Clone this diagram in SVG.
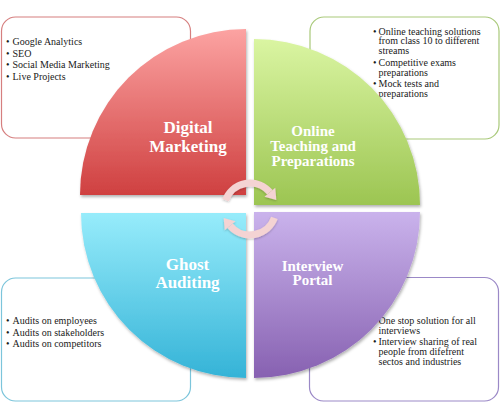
<svg xmlns="http://www.w3.org/2000/svg" width="500" height="419" viewBox="0 0 500 419">
<defs>
<linearGradient id="gRed" x1="0" y1="0" x2="0" y2="1"><stop offset="0" stop-color="#fca3a2"/><stop offset="1" stop-color="#cf4040"/></linearGradient>
<linearGradient id="gGreen" x1="0" y1="0" x2="0" y2="1"><stop offset="0" stop-color="#daf5a2"/><stop offset="1" stop-color="#9cc552"/></linearGradient>
<linearGradient id="gCyan" x1="0" y1="0" x2="0" y2="1"><stop offset="0" stop-color="#97ecfb"/><stop offset="1" stop-color="#34b3d7"/></linearGradient>
<linearGradient id="gPurple" x1="0" y1="0" x2="0" y2="1"><stop offset="0" stop-color="#cab3ec"/><stop offset="1" stop-color="#8761b1"/></linearGradient>
<filter id="sh" x="-10%" y="-10%" width="130%" height="130%"><feDropShadow dx="1" dy="2" stdDeviation="1.5" flood-color="#000" flood-opacity="0.3"/></filter>
<filter id="sh2" x="-30%" y="-30%" width="160%" height="160%"><feDropShadow dx="0" dy="1" stdDeviation="1" flood-color="#000" flood-opacity="0.25"/></filter>
</defs>
<style>
.box{fill:#fff;stroke-width:1.2}
.bt{font-family:"Liberation Serif",serif;font-size:10px;fill:#1a1a1a}
.hd{font-family:"Liberation Serif",serif;font-weight:bold;fill:#fff;text-anchor:middle}
.arr{fill:none;stroke:#f4d3d3;stroke-width:7}
.ah{fill:#f4d3d3}
</style>
<g id="box-tl">
<rect class="box" x="1.5" y="17" width="189" height="121" rx="14" stroke="#d67f7f"/>
<text class="bt"><tspan x="6" y="45">•</tspan><tspan x="12.5" y="45">Google Analytics</tspan><tspan x="6" y="56.7">•</tspan><tspan x="12.5" y="56.7">SEO</tspan><tspan x="6" y="68.4">•</tspan><tspan x="12.5" y="68.4">Social Media Marketing</tspan><tspan x="6" y="80">•</tspan><tspan x="12.5" y="80">Live Projects</tspan></text>
</g>
<g id="box-tr">
<rect class="box" x="310" y="17" width="189" height="122" rx="14" stroke="#a9c97a"/>
<text class="bt"><tspan x="373" y="34.5">•</tspan><tspan x="378.5" y="34.5">Online teaching solutions</tspan><tspan x="378.5" y="44.3">from class 10 to different</tspan><tspan x="378.5" y="54">streams</tspan><tspan x="373" y="65.8">•</tspan><tspan x="378.5" y="65.8">Competitive exams</tspan><tspan x="378.5" y="75.5">preparations</tspan><tspan x="373" y="87">•</tspan><tspan x="378.5" y="87">Mock tests and</tspan><tspan x="378.5" y="96.5">preparations</tspan></text>
</g>
<g id="box-bl">
<rect class="box" x="1.5" y="278" width="189" height="123" rx="14" stroke="#7cc5db"/>
<text class="bt"><tspan x="6" y="324">•</tspan><tspan x="12.5" y="324">Audits on employees</tspan><tspan x="6" y="335.5">•</tspan><tspan x="12.5" y="335.5">Audits on stakeholders</tspan><tspan x="6" y="347">•</tspan><tspan x="12.5" y="347">Audits on competitors</tspan></text>
</g>
<g id="box-br">
<rect class="box" x="309.5" y="277.5" width="189" height="123.5" rx="14" stroke="#9b89c7"/>
<text class="bt"><tspan x="373" y="324">•</tspan><tspan x="378.5" y="324">One stop solution for all</tspan><tspan x="378.5" y="333.7">interviews</tspan><tspan x="373" y="345">•</tspan><tspan x="378.5" y="345">Interview sharing of real</tspan><tspan x="378.5" y="355">people from difefrent</tspan><tspan x="378.5" y="365">sectos and industries</tspan></text>
</g>
<g id="q-digital">
<path d="M246,195 L80,195 A166,166 0 0 1 246,29 Z" fill="url(#gRed)" filter="url(#sh)"/>
<text class="hd" font-size="17"><tspan x="188" y="133">Digital</tspan><tspan x="188" y="151.5">Marketing</tspan></text>
</g>
<g id="q-online">
<path d="M254,205 L254,39 A166,166 0 0 1 420,205 Z" fill="url(#gGreen)" filter="url(#sh)"/>
<text class="hd" font-size="15"><tspan x="313" y="136">Online</tspan><tspan x="313" y="151">Teaching and</tspan><tspan x="313" y="166">Preparations</tspan></text>
</g>
<g id="q-ghost">
<path d="M246,213 L246,378 A165,165 0 0 1 81,213 Z" fill="url(#gCyan)" filter="url(#sh)"/>
<text class="hd" font-size="17"><tspan x="187.5" y="270">Ghost</tspan><tspan x="187.5" y="288">Auditing</tspan></text>
</g>
<g id="q-interview">
<path d="M254,212 L420,212 A166,166 0 0 1 254,378 Z" fill="url(#gPurple)" filter="url(#sh)"/>
<text class="hd" font-size="15"><tspan x="312.5" y="270.5">Interview</tspan><tspan x="312.5" y="285">Portal</tspan></text>
</g>
<g id="connectors" filter="url(#sh2)">
<g id="arrow-top">
<path class="arr" d="M225.6,200.1 A26,26 0 0 1 269.9,192.3"/>
<polygon class="ah" points="275.3,187.8 264.5,196.8 276.3,200"/>
</g>
<g id="arrow-bottom" transform="rotate(180 250 209)">
<path class="arr" d="M225.6,200.1 A26,26 0 0 1 269.9,192.3"/>
<polygon class="ah" points="275.3,187.8 264.5,196.8 276.3,200"/>
</g>
</g>
</svg>
